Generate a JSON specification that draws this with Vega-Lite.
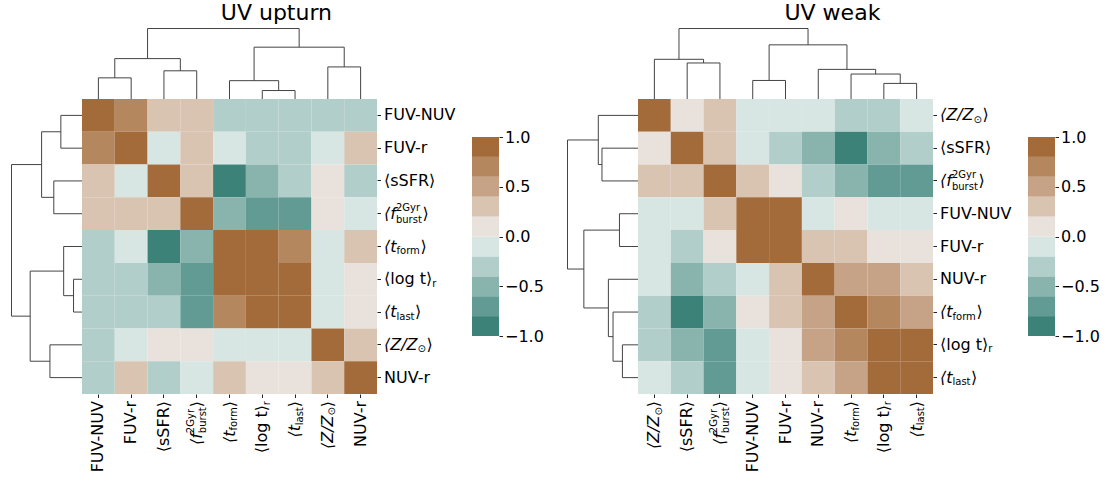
{
"$schema": "https://vega.github.io/schema/vega-lite/v6.json",
"padding": {"left": 9, "top": 2, "right": 5, "bottom": 5},
"bounds": "flush",
"spacing": 261,
"config": {"view": {"stroke": null}, "font": "DejaVu Sans", "axis": {"labelFont": "DejaVu Sans", "labelColor": "#000", "tickColor": "#222", "grid": false}},
"datasets": {
"cells": [
{"p":"up","r":"FUV-NUV","c":"FUV-NUV","v":1},{"p":"up","r":"FUV-NUV","c":"FUV-r","v":0.7},{"p":"up","r":"FUV-NUV","c":"sSFR","v":0.3},{"p":"up","r":"FUV-NUV","c":"fburst","v":0.3},{"p":"up","r":"FUV-NUV","c":"tform","v":-0.3},{"p":"up","r":"FUV-NUV","c":"logt","v":-0.3},{"p":"up","r":"FUV-NUV","c":"tlast","v":-0.3},{"p":"up","r":"FUV-NUV","c":"Z","v":-0.3},{"p":"up","r":"FUV-NUV","c":"NUV-r","v":-0.3},
{"p":"up","r":"FUV-r","c":"FUV-NUV","v":0.7},{"p":"up","r":"FUV-r","c":"FUV-r","v":1},{"p":"up","r":"FUV-r","c":"sSFR","v":-0.1},{"p":"up","r":"FUV-r","c":"fburst","v":0.3},{"p":"up","r":"FUV-r","c":"tform","v":-0.1},{"p":"up","r":"FUV-r","c":"logt","v":-0.3},{"p":"up","r":"FUV-r","c":"tlast","v":-0.3},{"p":"up","r":"FUV-r","c":"Z","v":-0.1},{"p":"up","r":"FUV-r","c":"NUV-r","v":0.3},
{"p":"up","r":"sSFR","c":"FUV-NUV","v":0.3},{"p":"up","r":"sSFR","c":"FUV-r","v":-0.1},{"p":"up","r":"sSFR","c":"sSFR","v":1},{"p":"up","r":"sSFR","c":"fburst","v":0.3},{"p":"up","r":"sSFR","c":"tform","v":-0.9},{"p":"up","r":"sSFR","c":"logt","v":-0.5},{"p":"up","r":"sSFR","c":"tlast","v":-0.3},{"p":"up","r":"sSFR","c":"Z","v":0.1},{"p":"up","r":"sSFR","c":"NUV-r","v":-0.3},
{"p":"up","r":"fburst","c":"FUV-NUV","v":0.3},{"p":"up","r":"fburst","c":"FUV-r","v":0.3},{"p":"up","r":"fburst","c":"sSFR","v":0.3},{"p":"up","r":"fburst","c":"fburst","v":1},{"p":"up","r":"fburst","c":"tform","v":-0.5},{"p":"up","r":"fburst","c":"logt","v":-0.7},{"p":"up","r":"fburst","c":"tlast","v":-0.7},{"p":"up","r":"fburst","c":"Z","v":0.1},{"p":"up","r":"fburst","c":"NUV-r","v":-0.1},
{"p":"up","r":"tform","c":"FUV-NUV","v":-0.3},{"p":"up","r":"tform","c":"FUV-r","v":-0.1},{"p":"up","r":"tform","c":"sSFR","v":-0.9},{"p":"up","r":"tform","c":"fburst","v":-0.5},{"p":"up","r":"tform","c":"tform","v":1},{"p":"up","r":"tform","c":"logt","v":0.9},{"p":"up","r":"tform","c":"tlast","v":0.7},{"p":"up","r":"tform","c":"Z","v":-0.1},{"p":"up","r":"tform","c":"NUV-r","v":0.3},
{"p":"up","r":"logt","c":"FUV-NUV","v":-0.3},{"p":"up","r":"logt","c":"FUV-r","v":-0.3},{"p":"up","r":"logt","c":"sSFR","v":-0.5},{"p":"up","r":"logt","c":"fburst","v":-0.7},{"p":"up","r":"logt","c":"tform","v":0.9},{"p":"up","r":"logt","c":"logt","v":1},{"p":"up","r":"logt","c":"tlast","v":0.9},{"p":"up","r":"logt","c":"Z","v":-0.1},{"p":"up","r":"logt","c":"NUV-r","v":0.1},
{"p":"up","r":"tlast","c":"FUV-NUV","v":-0.3},{"p":"up","r":"tlast","c":"FUV-r","v":-0.3},{"p":"up","r":"tlast","c":"sSFR","v":-0.3},{"p":"up","r":"tlast","c":"fburst","v":-0.7},{"p":"up","r":"tlast","c":"tform","v":0.7},{"p":"up","r":"tlast","c":"logt","v":0.9},{"p":"up","r":"tlast","c":"tlast","v":1},{"p":"up","r":"tlast","c":"Z","v":-0.1},{"p":"up","r":"tlast","c":"NUV-r","v":0.1},
{"p":"up","r":"Z","c":"FUV-NUV","v":-0.3},{"p":"up","r":"Z","c":"FUV-r","v":-0.1},{"p":"up","r":"Z","c":"sSFR","v":0.1},{"p":"up","r":"Z","c":"fburst","v":0.1},{"p":"up","r":"Z","c":"tform","v":-0.1},{"p":"up","r":"Z","c":"logt","v":-0.1},{"p":"up","r":"Z","c":"tlast","v":-0.1},{"p":"up","r":"Z","c":"Z","v":1},{"p":"up","r":"Z","c":"NUV-r","v":0.3},
{"p":"up","r":"NUV-r","c":"FUV-NUV","v":-0.3},{"p":"up","r":"NUV-r","c":"FUV-r","v":0.3},{"p":"up","r":"NUV-r","c":"sSFR","v":-0.3},{"p":"up","r":"NUV-r","c":"fburst","v":-0.1},{"p":"up","r":"NUV-r","c":"tform","v":0.3},{"p":"up","r":"NUV-r","c":"logt","v":0.1},{"p":"up","r":"NUV-r","c":"tlast","v":0.1},{"p":"up","r":"NUV-r","c":"Z","v":0.3},{"p":"up","r":"NUV-r","c":"NUV-r","v":1},
{"p":"wk","r":"Z","c":"Z","v":1},{"p":"wk","r":"Z","c":"sSFR","v":0.1},{"p":"wk","r":"Z","c":"fburst","v":0.3},{"p":"wk","r":"Z","c":"FUV-NUV","v":-0.1},{"p":"wk","r":"Z","c":"FUV-r","v":-0.1},{"p":"wk","r":"Z","c":"NUV-r","v":-0.1},{"p":"wk","r":"Z","c":"tform","v":-0.3},{"p":"wk","r":"Z","c":"logt","v":-0.3},{"p":"wk","r":"Z","c":"tlast","v":-0.1},
{"p":"wk","r":"sSFR","c":"Z","v":0.1},{"p":"wk","r":"sSFR","c":"sSFR","v":1},{"p":"wk","r":"sSFR","c":"fburst","v":0.3},{"p":"wk","r":"sSFR","c":"FUV-NUV","v":-0.1},{"p":"wk","r":"sSFR","c":"FUV-r","v":-0.3},{"p":"wk","r":"sSFR","c":"NUV-r","v":-0.5},{"p":"wk","r":"sSFR","c":"tform","v":-0.9},{"p":"wk","r":"sSFR","c":"logt","v":-0.5},{"p":"wk","r":"sSFR","c":"tlast","v":-0.3},
{"p":"wk","r":"fburst","c":"Z","v":0.3},{"p":"wk","r":"fburst","c":"sSFR","v":0.3},{"p":"wk","r":"fburst","c":"fburst","v":1},{"p":"wk","r":"fburst","c":"FUV-NUV","v":0.3},{"p":"wk","r":"fburst","c":"FUV-r","v":0.1},{"p":"wk","r":"fburst","c":"NUV-r","v":-0.3},{"p":"wk","r":"fburst","c":"tform","v":-0.5},{"p":"wk","r":"fburst","c":"logt","v":-0.7},{"p":"wk","r":"fburst","c":"tlast","v":-0.7},
{"p":"wk","r":"FUV-NUV","c":"Z","v":-0.1},{"p":"wk","r":"FUV-NUV","c":"sSFR","v":-0.1},{"p":"wk","r":"FUV-NUV","c":"fburst","v":0.3},{"p":"wk","r":"FUV-NUV","c":"FUV-NUV","v":1},{"p":"wk","r":"FUV-NUV","c":"FUV-r","v":0.9},{"p":"wk","r":"FUV-NUV","c":"NUV-r","v":-0.1},{"p":"wk","r":"FUV-NUV","c":"tform","v":0.1},{"p":"wk","r":"FUV-NUV","c":"logt","v":-0.1},{"p":"wk","r":"FUV-NUV","c":"tlast","v":-0.1},
{"p":"wk","r":"FUV-r","c":"Z","v":-0.1},{"p":"wk","r":"FUV-r","c":"sSFR","v":-0.3},{"p":"wk","r":"FUV-r","c":"fburst","v":0.1},{"p":"wk","r":"FUV-r","c":"FUV-NUV","v":0.9},{"p":"wk","r":"FUV-r","c":"FUV-r","v":1},{"p":"wk","r":"FUV-r","c":"NUV-r","v":0.3},{"p":"wk","r":"FUV-r","c":"tform","v":0.3},{"p":"wk","r":"FUV-r","c":"logt","v":0.1},{"p":"wk","r":"FUV-r","c":"tlast","v":0.1},
{"p":"wk","r":"NUV-r","c":"Z","v":-0.1},{"p":"wk","r":"NUV-r","c":"sSFR","v":-0.5},{"p":"wk","r":"NUV-r","c":"fburst","v":-0.3},{"p":"wk","r":"NUV-r","c":"FUV-NUV","v":-0.1},{"p":"wk","r":"NUV-r","c":"FUV-r","v":0.3},{"p":"wk","r":"NUV-r","c":"NUV-r","v":1},{"p":"wk","r":"NUV-r","c":"tform","v":0.5},{"p":"wk","r":"NUV-r","c":"logt","v":0.5},{"p":"wk","r":"NUV-r","c":"tlast","v":0.3},
{"p":"wk","r":"tform","c":"Z","v":-0.3},{"p":"wk","r":"tform","c":"sSFR","v":-0.9},{"p":"wk","r":"tform","c":"fburst","v":-0.5},{"p":"wk","r":"tform","c":"FUV-NUV","v":0.1},{"p":"wk","r":"tform","c":"FUV-r","v":0.3},{"p":"wk","r":"tform","c":"NUV-r","v":0.5},{"p":"wk","r":"tform","c":"tform","v":1},{"p":"wk","r":"tform","c":"logt","v":0.7},{"p":"wk","r":"tform","c":"tlast","v":0.5},
{"p":"wk","r":"logt","c":"Z","v":-0.3},{"p":"wk","r":"logt","c":"sSFR","v":-0.5},{"p":"wk","r":"logt","c":"fburst","v":-0.7},{"p":"wk","r":"logt","c":"FUV-NUV","v":-0.1},{"p":"wk","r":"logt","c":"FUV-r","v":0.1},{"p":"wk","r":"logt","c":"NUV-r","v":0.5},{"p":"wk","r":"logt","c":"tform","v":0.7},{"p":"wk","r":"logt","c":"logt","v":1},{"p":"wk","r":"logt","c":"tlast","v":0.9},
{"p":"wk","r":"tlast","c":"Z","v":-0.1},{"p":"wk","r":"tlast","c":"sSFR","v":-0.3},{"p":"wk","r":"tlast","c":"fburst","v":-0.7},{"p":"wk","r":"tlast","c":"FUV-NUV","v":-0.1},{"p":"wk","r":"tlast","c":"FUV-r","v":0.1},{"p":"wk","r":"tlast","c":"NUV-r","v":0.3},{"p":"wk","r":"tlast","c":"tform","v":0.5},{"p":"wk","r":"tlast","c":"logt","v":0.9},{"p":"wk","r":"tlast","c":"tlast","v":1}
],
"links": [
{"p":"up","l":1,"s":1,"x":0,"d":0},{"p":"up","l":1,"s":2,"x":0,"d":0.30},{"p":"up","l":1,"s":3,"x":1,"d":0.30},{"p":"up","l":1,"s":4,"x":1,"d":0},
{"p":"up","l":2,"s":1,"x":2,"d":0},{"p":"up","l":2,"s":2,"x":2,"d":0.40},{"p":"up","l":2,"s":3,"x":3,"d":0.40},{"p":"up","l":2,"s":4,"x":3,"d":0},
{"p":"up","l":3,"s":1,"x":0.5,"d":0.30},{"p":"up","l":3,"s":2,"x":0.5,"d":0.573},{"p":"up","l":3,"s":3,"x":2.5,"d":0.573},{"p":"up","l":3,"s":4,"x":2.5,"d":0.40},
{"p":"up","l":4,"s":1,"x":5,"d":0},{"p":"up","l":4,"s":2,"x":5,"d":0.12},{"p":"up","l":4,"s":3,"x":6,"d":0.12},{"p":"up","l":4,"s":4,"x":6,"d":0},
{"p":"up","l":5,"s":1,"x":4,"d":0},{"p":"up","l":5,"s":2,"x":4,"d":0.26},{"p":"up","l":5,"s":3,"x":5.5,"d":0.26},{"p":"up","l":5,"s":4,"x":5.5,"d":0.12},
{"p":"up","l":6,"s":1,"x":7,"d":0},{"p":"up","l":6,"s":2,"x":7,"d":0.455},{"p":"up","l":6,"s":3,"x":8,"d":0.455},{"p":"up","l":6,"s":4,"x":8,"d":0},
{"p":"up","l":7,"s":1,"x":4.75,"d":0.26},{"p":"up","l":7,"s":2,"x":4.75,"d":0.735},{"p":"up","l":7,"s":3,"x":7.5,"d":0.735},{"p":"up","l":7,"s":4,"x":7.5,"d":0.455},
{"p":"up","l":8,"s":1,"x":1.5,"d":0.573},{"p":"up","l":8,"s":2,"x":1.5,"d":1},{"p":"up","l":8,"s":3,"x":6.125,"d":1},{"p":"up","l":8,"s":4,"x":6.125,"d":0.735},
{"p":"wk","l":1,"s":1,"x":1,"d":0},{"p":"wk","l":1,"s":2,"x":1,"d":0.511},{"p":"wk","l":1,"s":3,"x":2,"d":0.511},{"p":"wk","l":1,"s":4,"x":2,"d":0},
{"p":"wk","l":2,"s":1,"x":0,"d":0},{"p":"wk","l":2,"s":2,"x":0,"d":0.563},{"p":"wk","l":2,"s":3,"x":1.5,"d":0.563},{"p":"wk","l":2,"s":4,"x":1.5,"d":0.511},
{"p":"wk","l":3,"s":1,"x":3,"d":0},{"p":"wk","l":3,"s":2,"x":3,"d":0.263},{"p":"wk","l":3,"s":3,"x":4,"d":0.263},{"p":"wk","l":3,"s":4,"x":4,"d":0},
{"p":"wk","l":4,"s":1,"x":7,"d":0},{"p":"wk","l":4,"s":2,"x":7,"d":0.221},{"p":"wk","l":4,"s":3,"x":8,"d":0.221},{"p":"wk","l":4,"s":4,"x":8,"d":0},
{"p":"wk","l":5,"s":1,"x":6,"d":0},{"p":"wk","l":5,"s":2,"x":6,"d":0.354},{"p":"wk","l":5,"s":3,"x":7.5,"d":0.354},{"p":"wk","l":5,"s":4,"x":7.5,"d":0.221},
{"p":"wk","l":6,"s":1,"x":5,"d":0},{"p":"wk","l":6,"s":2,"x":5,"d":0.42},{"p":"wk","l":6,"s":3,"x":6.75,"d":0.42},{"p":"wk","l":6,"s":4,"x":6.75,"d":0.354},
{"p":"wk","l":7,"s":1,"x":3.5,"d":0.263},{"p":"wk","l":7,"s":2,"x":3.5,"d":0.768},{"p":"wk","l":7,"s":3,"x":5.875,"d":0.768},{"p":"wk","l":7,"s":4,"x":5.875,"d":0.42},
{"p":"wk","l":8,"s":1,"x":0.75,"d":0.563},{"p":"wk","l":8,"s":2,"x":0.75,"d":1},{"p":"wk","l":8,"s":3,"x":4.6875,"d":1},{"p":"wk","l":8,"s":4,"x":4.6875,"d":0.768}
],
"cbar": [
{"lo":-1,"hi":-0.8},{"lo":-0.8,"hi":-0.6},{"lo":-0.6,"hi":-0.4},{"lo":-0.4,"hi":-0.2},{"lo":-0.2,"hi":0},
{"lo":0,"hi":0.2},{"lo":0.2,"hi":0.4},{"lo":0.4,"hi":0.6},{"lo":0.6,"hi":0.8},{"lo":0.8,"hi":1}
]
},
"hconcat": [
{
"width": 295, "height": 295,
"title": {"text": "UV upturn", "fontSize": 22, "fontWeight": "normal", "font": "DejaVu Sans", "color": "#000", "baseline": "alphabetic", "offset": -15.5, "frame": "bounds"},
"resolve": {"scale": {"x": "independent", "y": "independent"}, "axis": {"x": "independent", "y": "independent"}},
"layer": [
{"data": {"name": "cells"}, "transform": [{"filter": "datum.p === 'up'"}],
 "mark": {"type": "rect"},
 "encoding": {
  "x": {"field": "c", "type": "nominal", "scale": {"domain": ["FUV-NUV","FUV-r","sSFR","fburst","tform","logt","tlast","Z","NUV-r"], "paddingInner": 0, "paddingOuter": 0},
        "axis": {"orient": "bottom", "title": null, "domain": false, "tickSize": 3.5, "labelAngle": -90, "labelAlign": "right", "labelBaseline": "middle", "labelFontSize": 16, "labelOverlap": false,
                 "labelExpr": "datum.value==='sSFR'?'⟨sSFR⟩':datum.value==='fburst'?'⟨f':(datum.value==='tform'||datum.value==='tlast')?'⟨t':datum.value==='logt'?'⟨log t⟩':datum.value==='Z'?'⟨Z/Z':datum.value",
                 "labelFontStyle": {"expr": "(datum.value==='fburst'||datum.value==='tform'||datum.value==='tlast'||datum.value==='Z')?'italic':'normal'"},
                 "labelPadding": {"expr": "datum.value==='fburst'?35:datum.value==='tform'?32.5:datum.value==='tlast'?27:datum.value==='Z'?17.5:datum.value==='logt'?7:3"}}},
  "y": {"field": "r", "type": "nominal", "scale": {"domain": ["FUV-NUV","FUV-r","sSFR","fburst","tform","logt","tlast","Z","NUV-r"], "paddingInner": 0, "paddingOuter": 0},
        "axis": {"orient": "right", "title": null, "domain": false, "tickSize": 3.5, "labelAlign": "left", "labelBaseline": "middle", "labelFontSize": 16, "labelPadding": 3, "labelOverlap": false,
                 "labelFontStyle": {"expr": "(datum.value==='fburst'||datum.value==='tform'||datum.value==='tlast'||datum.value==='Z')?'italic':'normal'"},
                 "labelExpr": "datum.value==='sSFR'?'⟨sSFR⟩':datum.value==='fburst'?'⟨f':(datum.value==='tform'||datum.value==='tlast')?'⟨t':datum.value==='logt'?'⟨log t⟩':datum.value==='Z'?'⟨Z/Z':datum.value"}},
  "color": {"field": "v", "type": "quantitative", "legend": null,
            "scale": {"type": "threshold", "domain": [-0.8,-0.6,-0.4,-0.2,0,0.2,0.4,0.6,0.8], "range": ["#3d8279","#629b93","#89b4ae","#b2ceca","#d7e6e3","#e9e1dc","#d9c4b2","#c6a386","#b4875f","#a36b3a"]}}
 }},
{"data": {"name": "cells"}, "transform": [{"filter": "datum.p === 'up'"}],
 "mark": {"type": "rect", "opacity": 0},
 "encoding": {
  "x": {"field": "c", "type": "nominal", "scale": {"domain": ["FUV-NUV","FUV-r","sSFR","fburst","tform","logt","tlast","Z","NUV-r"], "paddingInner": 0, "paddingOuter": 0},
        "axis": {"orient": "bottom", "title": null, "domain": false, "ticks": false, "labelAngle": -90, "labelAlign": "right", "labelBaseline": "middle", "labelFontSize": 10, "labelOverlap": false,
                 "labelExpr": "datum.value==='fburst'?'burst':datum.value==='tform'?'form':datum.value==='tlast'?'last':datum.value==='logt'?'r':datum.value==='Z'?'⊙':''",
                 "labelPadding": {"expr": "datum.value==='logt'?6.5:12.7"}, "labelOffset": {"expr": "datum.value==='fburst'?6:4.5"}}},
  "y": {"field": "r", "type": "nominal", "scale": {"domain": ["FUV-NUV","FUV-r","sSFR","fburst","tform","logt","tlast","Z","NUV-r"], "paddingInner": 0, "paddingOuter": 0},
        "axis": {"orient": "right", "title": null, "domain": false, "ticks": false, "labelAlign": "left", "labelBaseline": "middle", "labelFontSize": 10, "labelOverlap": false,
                 "labelExpr": "datum.value==='fburst'?'burst':datum.value==='tform'?'form':datum.value==='tlast'?'last':datum.value==='logt'?'r':datum.value==='Z'?'⊙':''",
                 "labelPadding": {"expr": "datum.value==='logt'?54.7:datum.value==='Z'?40:datum.value==='fburst'?18.4:19"}, "labelOffset": {"expr": "datum.value==='fburst'?6:4.5"}}}
 }},
{"data": {"name": "cells"}, "transform": [{"filter": "datum.p === 'up'"}],
 "mark": {"type": "rect", "opacity": 0},
 "encoding": {
  "x": {"field": "c", "type": "nominal", "scale": {"domain": ["FUV-NUV","FUV-r","sSFR","fburst","tform","logt","tlast","Z","NUV-r"], "paddingInner": 0, "paddingOuter": 0},
        "axis": {"orient": "bottom", "title": null, "domain": false, "ticks": false, "labelAngle": -90, "labelAlign": "right", "labelBaseline": "middle", "labelFontSize": 10, "labelOverlap": false,
                 "labelExpr": "datum.value==='fburst'?'2Gyr':''", "labelPadding": 14.5, "labelOffset": -6}},
  "y": {"field": "r", "type": "nominal", "scale": {"domain": ["FUV-NUV","FUV-r","sSFR","fburst","tform","logt","tlast","Z","NUV-r"], "paddingInner": 0, "paddingOuter": 0},
        "axis": {"orient": "right", "title": null, "domain": false, "ticks": false, "labelAlign": "left", "labelBaseline": "middle", "labelFontSize": 10, "labelOverlap": false,
                 "labelExpr": "datum.value==='fburst'?'2Gyr':''", "labelPadding": 18.4, "labelOffset": -6}}
 }},
{"data": {"name": "cells"}, "transform": [{"filter": "datum.p === 'up'"}],
 "mark": {"type": "rect", "opacity": 0},
 "encoding": {
  "x": {"field": "c", "type": "nominal", "scale": {"domain": ["FUV-NUV","FUV-r","sSFR","fburst","tform","logt","tlast","Z","NUV-r"], "paddingInner": 0, "paddingOuter": 0},
        "axis": {"orient": "bottom", "title": null, "domain": false, "ticks": false, "labelAngle": -90, "labelAlign": "right", "labelBaseline": "middle", "labelFontSize": 16, "labelOverlap": false,
                 "labelExpr": "(datum.value==='fburst'||datum.value==='tform'||datum.value==='tlast'||datum.value==='Z')?'⟩':''", "labelPadding": 6.5}},
  "y": {"field": "r", "type": "nominal", "scale": {"domain": ["FUV-NUV","FUV-r","sSFR","fburst","tform","logt","tlast","Z","NUV-r"], "paddingInner": 0, "paddingOuter": 0},
        "axis": {"orient": "right", "title": null, "domain": false, "ticks": false, "labelAlign": "left", "labelBaseline": "middle", "labelFontSize": 16, "labelOverlap": false,
                 "labelExpr": "(datum.value==='fburst'||datum.value==='tform'||datum.value==='tlast'||datum.value==='Z')?'⟩':''",
                 "labelPadding": {"expr": "datum.value==='fburst'?45:datum.value==='tform'?43:datum.value==='tlast'?37.5:49"}}}
 }},
{"data": {"name": "links"}, "transform": [{"filter": "datum.p === 'up'"}],
 "mark": {"type": "line", "color": "#444", "strokeWidth": 1},
 "encoding": {
  "x": {"field": "x", "type": "quantitative", "scale": {"domain": [-0.5, 8.5], "range": [0, 295], "nice": false, "zero": false}, "axis": null},
  "y": {"field": "d", "type": "quantitative", "scale": {"domain": [0, 1], "range": [0, -70.5], "nice": false, "zero": false}, "axis": null},
  "detail": {"field": "l"}, "order": {"field": "s"}
 }},
{"data": {"name": "links"}, "transform": [{"filter": "datum.p === 'up'"}],
 "mark": {"type": "line", "color": "#444", "strokeWidth": 1},
 "encoding": {
  "y": {"field": "x", "type": "quantitative", "scale": {"domain": [-0.5, 8.5], "range": [0, 295], "nice": false, "zero": false}, "axis": null},
  "x": {"field": "d", "type": "quantitative", "scale": {"domain": [0, 1], "range": [0, -70.5], "nice": false, "zero": false}, "axis": null},
  "detail": {"field": "l"}, "order": {"field": "s"}
 }},
{"data": {"name": "cbar"},
 "mark": {"type": "rect"},
 "encoding": {
  "x": {"datum": 0, "type": "quantitative", "scale": {"domain": [0, 1], "range": [390, 417], "nice": false, "zero": false}, "axis": null},
  "x2": {"datum": 1},
  "y": {"field": "lo", "type": "quantitative", "scale": {"domain": [-1, 1], "range": [237, 38], "nice": false, "zero": false},
        "axis": {"orient": "right", "offset": 122, "title": null, "domain": false, "grid": false, "tickSize": 3.5, "labelPadding": 2, "labelFontSize": 16, "values": [-1, -0.5, 0, 0.5, 1], "format": ".1f", "labelBaseline": "middle", "labelOverlap": false}},
  "y2": {"field": "hi"},
  "color": {"field": "lo", "type": "quantitative", "legend": null,
            "scale": {"type": "threshold", "domain": [-0.8,-0.6,-0.4,-0.2,0,0.2,0.4,0.6,0.8], "range": ["#3d8279","#629b93","#89b4ae","#b2ceca","#d7e6e3","#e9e1dc","#d9c4b2","#c6a386","#b4875f","#a36b3a"]}}
 }}
]
},
{
"width": 295, "height": 295,
"title": {"text": "UV weak", "fontSize": 22, "fontWeight": "normal", "font": "DejaVu Sans", "color": "#000", "baseline": "alphabetic", "offset": -15.5, "frame": "bounds"},
"resolve": {"scale": {"x": "independent", "y": "independent"}, "axis": {"x": "independent", "y": "independent"}},
"layer": [
{"data": {"name": "cells"}, "transform": [{"filter": "datum.p === 'wk'"}],
 "mark": {"type": "rect"},
 "encoding": {
  "x": {"field": "c", "type": "nominal", "scale": {"domain": ["Z","sSFR","fburst","FUV-NUV","FUV-r","NUV-r","tform","logt","tlast"], "paddingInner": 0, "paddingOuter": 0},
        "axis": {"orient": "bottom", "title": null, "domain": false, "tickSize": 3.5, "labelAngle": -90, "labelAlign": "right", "labelBaseline": "middle", "labelFontSize": 16, "labelOverlap": false,
                 "labelExpr": "datum.value==='sSFR'?'⟨sSFR⟩':datum.value==='fburst'?'⟨f':(datum.value==='tform'||datum.value==='tlast')?'⟨t':datum.value==='logt'?'⟨log t⟩':datum.value==='Z'?'⟨Z/Z':datum.value",
                 "labelFontStyle": {"expr": "(datum.value==='fburst'||datum.value==='tform'||datum.value==='tlast'||datum.value==='Z')?'italic':'normal'"},
                 "labelPadding": {"expr": "datum.value==='fburst'?35:datum.value==='tform'?32.5:datum.value==='tlast'?27:datum.value==='Z'?17.5:datum.value==='logt'?7:3"}}},
  "y": {"field": "r", "type": "nominal", "scale": {"domain": ["Z","sSFR","fburst","FUV-NUV","FUV-r","NUV-r","tform","logt","tlast"], "paddingInner": 0, "paddingOuter": 0},
        "axis": {"orient": "right", "title": null, "domain": false, "tickSize": 3.5, "labelAlign": "left", "labelBaseline": "middle", "labelFontSize": 16, "labelPadding": 3, "labelOverlap": false,
                 "labelFontStyle": {"expr": "(datum.value==='fburst'||datum.value==='tform'||datum.value==='tlast'||datum.value==='Z')?'italic':'normal'"},
                 "labelExpr": "datum.value==='sSFR'?'⟨sSFR⟩':datum.value==='fburst'?'⟨f':(datum.value==='tform'||datum.value==='tlast')?'⟨t':datum.value==='logt'?'⟨log t⟩':datum.value==='Z'?'⟨Z/Z':datum.value"}},
  "color": {"field": "v", "type": "quantitative", "legend": null,
            "scale": {"type": "threshold", "domain": [-0.8,-0.6,-0.4,-0.2,0,0.2,0.4,0.6,0.8], "range": ["#3d8279","#629b93","#89b4ae","#b2ceca","#d7e6e3","#e9e1dc","#d9c4b2","#c6a386","#b4875f","#a36b3a"]}}
 }},
{"data": {"name": "cells"}, "transform": [{"filter": "datum.p === 'wk'"}],
 "mark": {"type": "rect", "opacity": 0},
 "encoding": {
  "x": {"field": "c", "type": "nominal", "scale": {"domain": ["Z","sSFR","fburst","FUV-NUV","FUV-r","NUV-r","tform","logt","tlast"], "paddingInner": 0, "paddingOuter": 0},
        "axis": {"orient": "bottom", "title": null, "domain": false, "ticks": false, "labelAngle": -90, "labelAlign": "right", "labelBaseline": "middle", "labelFontSize": 10, "labelOverlap": false,
                 "labelExpr": "datum.value==='fburst'?'burst':datum.value==='tform'?'form':datum.value==='tlast'?'last':datum.value==='logt'?'r':datum.value==='Z'?'⊙':''",
                 "labelPadding": {"expr": "datum.value==='logt'?6.5:12.7"}, "labelOffset": {"expr": "datum.value==='fburst'?6:4.5"}}},
  "y": {"field": "r", "type": "nominal", "scale": {"domain": ["Z","sSFR","fburst","FUV-NUV","FUV-r","NUV-r","tform","logt","tlast"], "paddingInner": 0, "paddingOuter": 0},
        "axis": {"orient": "right", "title": null, "domain": false, "ticks": false, "labelAlign": "left", "labelBaseline": "middle", "labelFontSize": 10, "labelOverlap": false,
                 "labelExpr": "datum.value==='fburst'?'burst':datum.value==='tform'?'form':datum.value==='tlast'?'last':datum.value==='logt'?'r':datum.value==='Z'?'⊙':''",
                 "labelPadding": {"expr": "datum.value==='logt'?54.7:datum.value==='Z'?40:datum.value==='fburst'?18.4:19"}, "labelOffset": {"expr": "datum.value==='fburst'?6:4.5"}}}
 }},
{"data": {"name": "cells"}, "transform": [{"filter": "datum.p === 'wk'"}],
 "mark": {"type": "rect", "opacity": 0},
 "encoding": {
  "x": {"field": "c", "type": "nominal", "scale": {"domain": ["Z","sSFR","fburst","FUV-NUV","FUV-r","NUV-r","tform","logt","tlast"], "paddingInner": 0, "paddingOuter": 0},
        "axis": {"orient": "bottom", "title": null, "domain": false, "ticks": false, "labelAngle": -90, "labelAlign": "right", "labelBaseline": "middle", "labelFontSize": 10, "labelOverlap": false,
                 "labelExpr": "datum.value==='fburst'?'2Gyr':''", "labelPadding": 14.5, "labelOffset": -6}},
  "y": {"field": "r", "type": "nominal", "scale": {"domain": ["Z","sSFR","fburst","FUV-NUV","FUV-r","NUV-r","tform","logt","tlast"], "paddingInner": 0, "paddingOuter": 0},
        "axis": {"orient": "right", "title": null, "domain": false, "ticks": false, "labelAlign": "left", "labelBaseline": "middle", "labelFontSize": 10, "labelOverlap": false,
                 "labelExpr": "datum.value==='fburst'?'2Gyr':''", "labelPadding": 18.4, "labelOffset": -6}}
 }},
{"data": {"name": "cells"}, "transform": [{"filter": "datum.p === 'wk'"}],
 "mark": {"type": "rect", "opacity": 0},
 "encoding": {
  "x": {"field": "c", "type": "nominal", "scale": {"domain": ["Z","sSFR","fburst","FUV-NUV","FUV-r","NUV-r","tform","logt","tlast"], "paddingInner": 0, "paddingOuter": 0},
        "axis": {"orient": "bottom", "title": null, "domain": false, "ticks": false, "labelAngle": -90, "labelAlign": "right", "labelBaseline": "middle", "labelFontSize": 16, "labelOverlap": false,
                 "labelExpr": "(datum.value==='fburst'||datum.value==='tform'||datum.value==='tlast'||datum.value==='Z')?'⟩':''", "labelPadding": 6.5}},
  "y": {"field": "r", "type": "nominal", "scale": {"domain": ["Z","sSFR","fburst","FUV-NUV","FUV-r","NUV-r","tform","logt","tlast"], "paddingInner": 0, "paddingOuter": 0},
        "axis": {"orient": "right", "title": null, "domain": false, "ticks": false, "labelAlign": "left", "labelBaseline": "middle", "labelFontSize": 16, "labelOverlap": false,
                 "labelExpr": "(datum.value==='fburst'||datum.value==='tform'||datum.value==='tlast'||datum.value==='Z')?'⟩':''",
                 "labelPadding": {"expr": "datum.value==='fburst'?45:datum.value==='tform'?43:datum.value==='tlast'?37.5:49"}}}
 }},
{"data": {"name": "links"}, "transform": [{"filter": "datum.p === 'wk'"}],
 "mark": {"type": "line", "color": "#444", "strokeWidth": 1},
 "encoding": {
  "x": {"field": "x", "type": "quantitative", "scale": {"domain": [-0.5, 8.5], "range": [0, 295], "nice": false, "zero": false}, "axis": null},
  "y": {"field": "d", "type": "quantitative", "scale": {"domain": [0, 1], "range": [0, -70.5], "nice": false, "zero": false}, "axis": null},
  "detail": {"field": "l"}, "order": {"field": "s"}
 }},
{"data": {"name": "links"}, "transform": [{"filter": "datum.p === 'wk'"}],
 "mark": {"type": "line", "color": "#444", "strokeWidth": 1},
 "encoding": {
  "y": {"field": "x", "type": "quantitative", "scale": {"domain": [-0.5, 8.5], "range": [0, 295], "nice": false, "zero": false}, "axis": null},
  "x": {"field": "d", "type": "quantitative", "scale": {"domain": [0, 1], "range": [0, -70.5], "nice": false, "zero": false}, "axis": null},
  "detail": {"field": "l"}, "order": {"field": "s"}
 }},
{"data": {"name": "cbar"},
 "mark": {"type": "rect"},
 "encoding": {
  "x": {"datum": 0, "type": "quantitative", "scale": {"domain": [0, 1], "range": [390, 417], "nice": false, "zero": false}, "axis": null},
  "x2": {"datum": 1},
  "y": {"field": "lo", "type": "quantitative", "scale": {"domain": [-1, 1], "range": [237, 38], "nice": false, "zero": false},
        "axis": {"orient": "right", "offset": 122, "title": null, "domain": false, "grid": false, "tickSize": 3.5, "labelPadding": 2, "labelFontSize": 16, "values": [-1, -0.5, 0, 0.5, 1], "format": ".1f", "labelBaseline": "middle", "labelOverlap": false}},
  "y2": {"field": "hi"},
  "color": {"field": "lo", "type": "quantitative", "legend": null,
            "scale": {"type": "threshold", "domain": [-0.8,-0.6,-0.4,-0.2,0,0.2,0.4,0.6,0.8], "range": ["#3d8279","#629b93","#89b4ae","#b2ceca","#d7e6e3","#e9e1dc","#d9c4b2","#c6a386","#b4875f","#a36b3a"]}}
 }}
]
}
]
}
